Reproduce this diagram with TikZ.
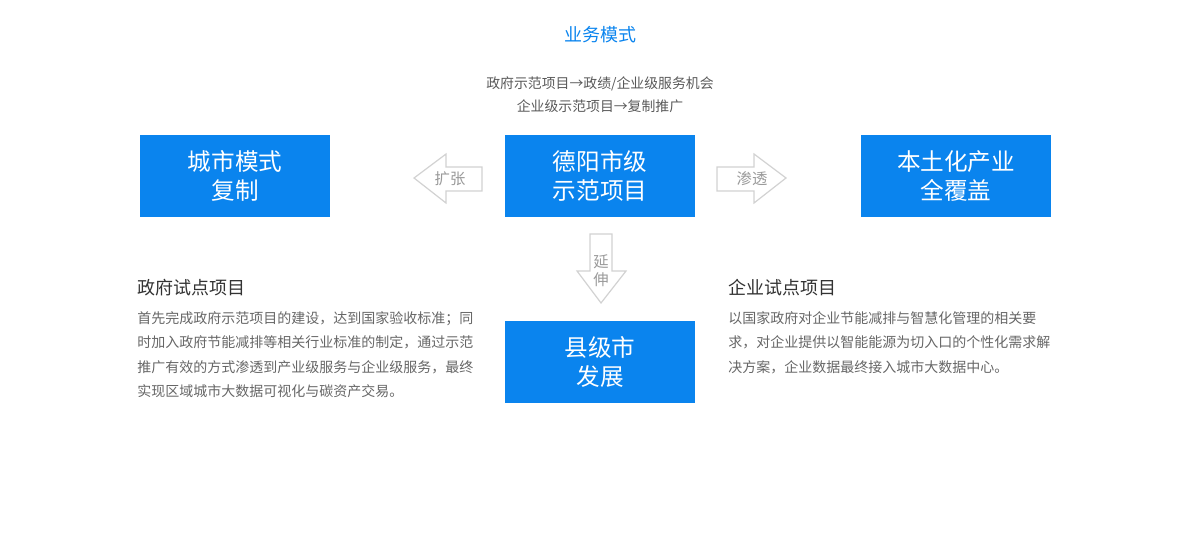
\documentclass[tikz,border=0pt]{standalone}
\usepackage{fontspec}
\setmainfont{Noto Sans CJK SC}
\definecolor{boxblue}{HTML}{0A84EE}
\definecolor{arrowgray}{HTML}{D2D2D2}
\definecolor{labelgray}{HTML}{9A9A9A}
\definecolor{textgray}{HTML}{666666}
\begin{document}
\begin{tikzpicture}[x=0.75pt,y=-0.75pt,
  bluebox/.style={fill=boxblue,text=white,align=center,minimum width=142.5pt,minimum height=61.5pt,font=\fontsize{17.7pt}{22pt}\selectfont},
  hollow/.style={draw=arrowgray,line width=0.9pt,fill=white},
  arrowtext/.style={text=labelgray,font=\fontsize{11.5pt}{13.5pt}\selectfont,align=center,inner sep=0pt},
  heading/.style={anchor=west,text=black!80,font=\fontsize{13.5pt}{16pt}\selectfont,inner sep=0pt},
  para/.style={anchor=north west,text=textgray,align=left,inner sep=0pt,font=\fontsize{10.5pt}{18.4pt}\selectfont}]
\def\expandarrow{(482,167) -- (446,167) -- (446,154) -- (414,178) -- (446,203) -- (446,191) -- (482,191) -- cycle}
\def\seeparrow{(717,167) -- (754,167) -- (754,154) -- (786,178) -- (754,203) -- (754,191) -- (717,191) -- cycle}
\def\extendarrow{(590,234) -- (612,234) -- (612,271) -- (626,271) -- (601,303) -- (577,271) -- (590,271) -- cycle}
\useasboundingbox (0,0) rectangle (1200,538);

% title and subtitle
\node[text=boxblue,font=\fontsize{13.5pt}{16pt}\selectfont] (title) at (600,35) {业务模式};
\node[text=black!65,align=center,font=\fontsize{10.4pt}{17.4pt}\selectfont] (subtitle) at (600,94.5) {政府示范项目→政绩/企业级服务机会\\企业级示范项目→复制推广};

% the four boxes
\node[bluebox] (city) at (235,176) {城市模式\\复制};
\node[bluebox] (deyang) at (600,176) {德阳市级\\示范项目};
\node[bluebox] (industry) at (956,176) {本土化产业\\全覆盖};
\node[bluebox] (county) at (600,362) {县级市\\发展};

% hollow arrows
\draw[hollow] \expandarrow;
\draw[hollow] \seeparrow;
\draw[hollow] \extendarrow;
\node[arrowtext] (expand) at (450,179) {扩张};
\node[arrowtext] (seep) at (752,179) {渗透};
\node[arrowtext] (extend) at (601,271) {延\\伸};

% government pilot
\node[heading] (govhead) at (137,288) {政府试点项目};
\node[para] (govtext) at (137,311) {首先完成政府示范项目的建设，达到国家验收标准；同\\时加入政府节能减排等相关行业标准的制定，通过示范\\推广有效的方式渗透到产业级服务与企业级服务，最终\\实现区域城市大数据可视化与碳资产交易。};

% enterprise pilot
\node[heading] (enthead) at (728,288) {企业试点项目};
\node[para] (enttext) at (728,311) {以国家政府对企业节能减排与智慧化管理的相关要\\求，对企业提供以智能能源为切入口的个性化需求解\\决方案，企业数据最终接入城市大数据中心。};
\end{tikzpicture}
\end{document}
